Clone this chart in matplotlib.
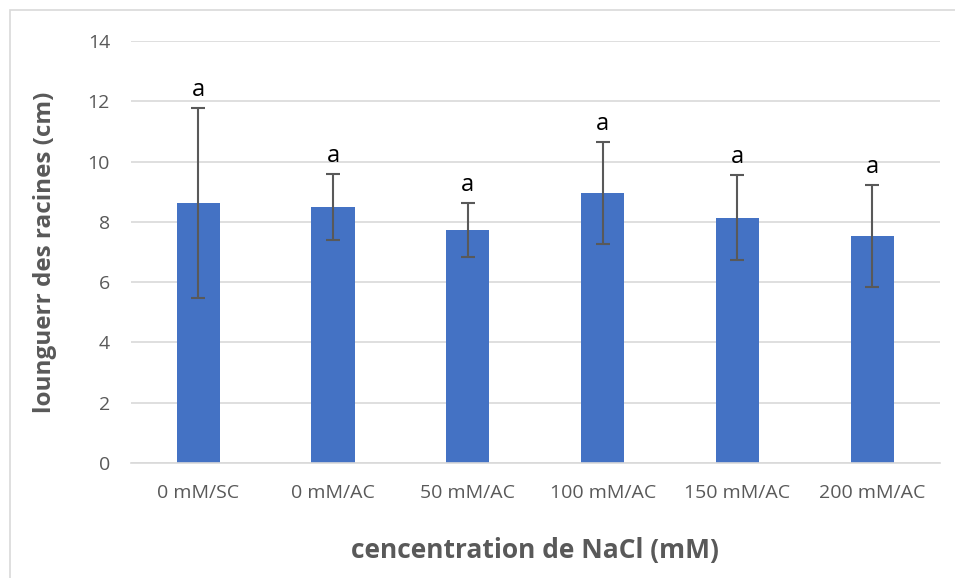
import matplotlib.pyplot as plt
from matplotlib.patches import Rectangle

categories = ['0 mM/SC', '0 mM/AC', '50 mM/AC', '100 mM/AC', '150 mM/AC', '200 mM/AC']
means = [8.63, 8.50, 7.74, 8.95, 8.14, 7.53]
errors = [3.15, 1.10, 0.90, 1.69, 1.42, 1.69]
letters = ['a', 'a', 'a', 'a', 'a', 'a']

plt.rcParams['font.family'] = ['Open Sans', 'DejaVu Sans']

fig = plt.figure(figsize=(9.55, 5.78), dpi=100)
ax = fig.add_axes([0.137, 0.199, 0.847, 0.730])

x = range(len(categories))
ax.bar(x, means, width=0.32, color='#4472C4', zorder=2)
ax.errorbar(x, means, yerr=errors, fmt='none', ecolor='#595959',
            elinewidth=1.5, capsize=5, capthick=1.5, zorder=3)
for i, (m, e, l) in enumerate(zip(means, errors, letters)):
    ax.text(i, m + e + 0.2, l, ha='center', va='bottom', fontsize=17, color='black')

ax.set_xlim(-0.5, len(categories) - 0.5)
ax.set_ylim(0, 14)
ax.set_yticks(range(0, 15, 2))
ax.set_xticks(list(x))
ax.set_xticklabels(categories)
ax.yaxis.grid(True, color='#D9D9D9', linewidth=1.2, zorder=0)
ax.set_axisbelow(True)
for s in ['top', 'right', 'left']:
    ax.spines[s].set_visible(False)
ax.spines['bottom'].set_color('#D9D9D9')
ax.spines['bottom'].set_linewidth(1.2)
ax.tick_params(axis='both', length=0, labelsize=14, labelcolor='#595959')
ax.tick_params(axis='y', pad=15)
ax.tick_params(axis='x', pad=15)

ax.set_ylabel('lounguerr des racines (cm)', fontsize=17.5, fontweight='bold',
              color='#595959', labelpad=22)
ax.set_xlabel('cencentration de NaCl (mM)', fontsize=19, fontweight='bold',
              color='#595959', labelpad=25)

fig.patches.append(Rectangle((10 / 955, -0.05), 1.0, 1 - 10 / 578 + 0.05,
                             transform=fig.transFigure, fill=False,
                             edgecolor='#D9D9D9', linewidth=1.2))

fig.savefig('out.png', dpi=100)
